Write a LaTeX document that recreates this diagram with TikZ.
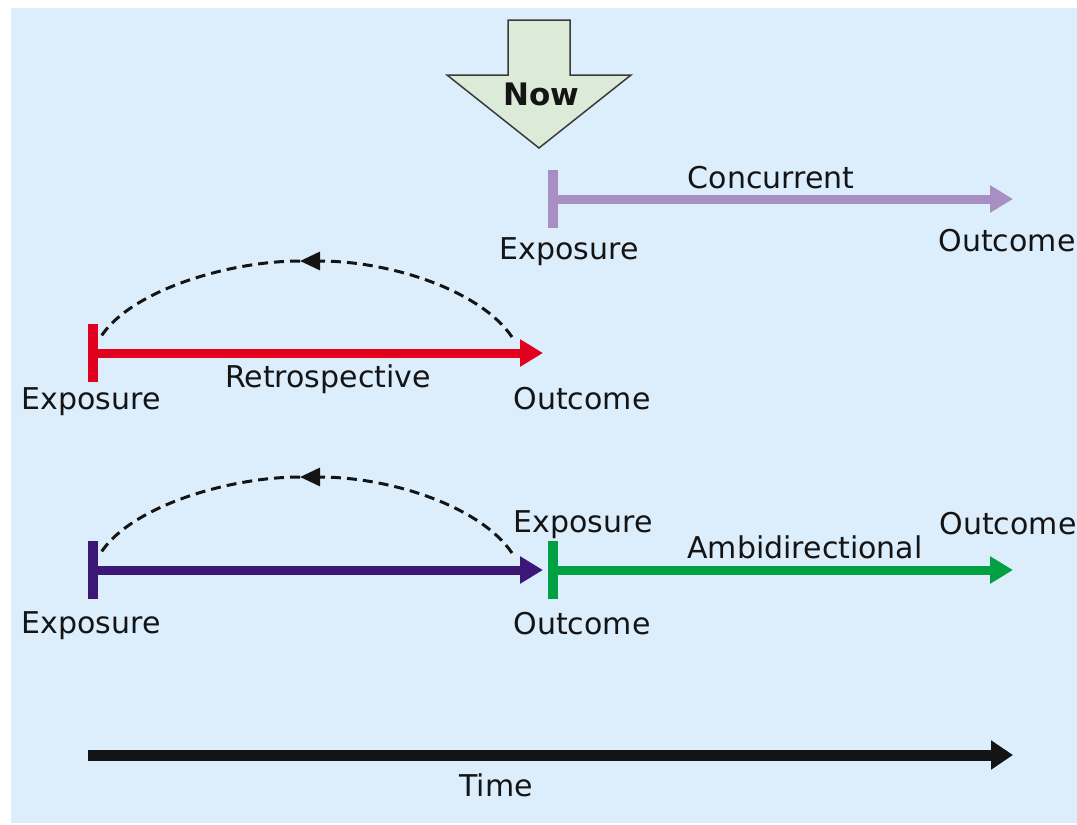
\documentclass[tikz,border=0pt]{standalone}
\usepackage{fontspec}
\setmainfont{DejaVu Sans}
\usepackage{xcolor}
\definecolor{Sky}{HTML}{DCEEFC}
\definecolor{NowFill}{HTML}{DCEBD8}
\definecolor{NowEdge}{HTML}{3A3A3A}
\definecolor{Lilac}{HTML}{A78FC4}
\definecolor{Crimson}{HTML}{E2001F}
\definecolor{Indigo}{HTML}{3C1778}
\definecolor{Leaf}{HTML}{00A043}
\definecolor{Ink}{HTML}{141414}
\usetikzlibrary{arrows.meta}

\begin{document}
\begin{tikzpicture}[x=1pt, y=-1pt,
  lbl/.style={font=\fontsize{30}{36}\selectfont, text=Ink, inner sep=0pt},
  bar/.style={rectangle, minimum width=10pt, minimum height=58pt, inner sep=0pt},
  span/.style={line width=9pt, -{Triangle[length=23pt,width=26pt]}},
  back/.style={Ink, line width=3pt, dash pattern=on 10pt off 6pt},
  backtip/.style={back, -{Triangle[length=20pt,width=18pt]}}
]

%% ---- Backdrop ----
\useasboundingbox (0,0) rectangle (1077,825);
\fill[Sky] (11,8) rectangle (1077,823);

%% ---- Now marker ----
\draw[fill=NowFill, draw=NowEdge, line width=1.5pt, line join=miter]
  (508,20) -- (570,20) -- (570,75) -- (631,75) -- (539,148) -- (447,75) -- (508,75) -- cycle;
\node[lbl, font=\fontsize{31}{36}\selectfont\bfseries] (now) at (541,94) {Now};

%% ---- Concurrent ----
\node[bar, fill=Lilac] (concBar) at (553,199) {};
\coordinate (concEnd) at (1013,199);
\draw[span, Lilac] (concBar.center) -- (concEnd);
\node[lbl] (concName) at (771,178) {Concurrent};
\node[lbl] (concExp)  at (569,252) {Exposure};
\node[lbl] (concOut)  at (1007,241) {Outcome};

%% ---- Retrospective ----
\node[bar, fill=Crimson] (retroBar) at (93,353) {};
\coordinate (retroEnd) at (543,353);
\draw[span, Crimson] (retroBar.center) -- (retroEnd);
\node[lbl] (retroName) at (328,379) {Retrospective};
\node[lbl] (retroExp)  at (91,402) {Exposure};
\node[lbl] (retroOut)  at (582,399) {Outcome};
% dashed return path, arrow sits on top of the arc
\coordinate (retroFrom) at (512,337);
\coordinate (retroTop)  at (300,261);
\coordinate (retroTo)   at (100,338);
\draw[backtip] (retroFrom) .. controls (480,290) and (390,261) .. (retroTop);
\draw[back] (retroTop) .. controls (230,261) and (130,290) .. (retroTo);

%% ---- Ambidirectional ----
\node[bar, fill=Indigo] (ambiBar) at (93,570) {};
\coordinate (ambiMid) at (543,570);
\draw[span, Indigo] (ambiBar.center) -- (ambiMid);
\node[bar, fill=Leaf] (fwdBar) at (553,570) {};
\coordinate (ambiEnd) at (1013,570);
\draw[span, Leaf] (fwdBar.center) -- (ambiEnd);
\node[lbl] (ambiName)   at (805,547) {Ambidirectional};
\node[lbl] (ambiExp)    at (91,626) {Exposure};
\node[lbl] (ambiOut)    at (582,624) {Outcome};
\node[lbl] (fwdExp)     at (583,525) {Exposure};
\node[lbl] (fwdOut)     at (1008,524) {Outcome};
\coordinate (ambiFrom) at (512,553);
\coordinate (ambiTop)  at (300,477);
\coordinate (ambiTo)   at (100,554);
\draw[backtip] (ambiFrom) .. controls (480,506) and (390,477) .. (ambiTop);
\draw[back] (ambiTop) .. controls (230,477) and (130,506) .. (ambiTo);

%% ---- Time axis ----
\coordinate (timeFrom) at (88,755);
\coordinate (timeTo)   at (1013,755);
\draw[Ink, line width=11pt, -{Triangle[length=22pt,width=28pt]}] (timeFrom) -- (timeTo);
\node[lbl] (timeName) at (496,785) {Time};

\end{tikzpicture}
\end{document}
